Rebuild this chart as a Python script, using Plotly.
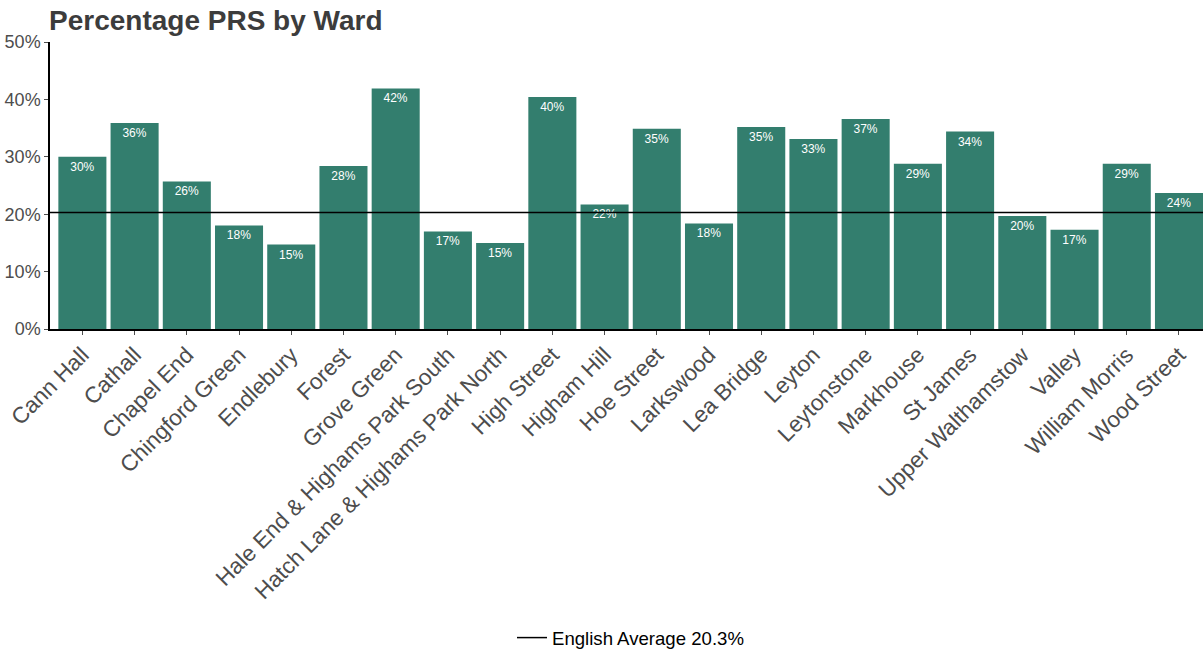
import plotly.graph_objects as go

wards = ["Cann Hall", "Cathall", "Chapel End", "Chingford Green", "Endlebury", "Forest",
         "Grove Green", "Hale End & Highams Park South", "Hatch Lane & Highams Park North",
         "High Street", "Higham Hill", "Hoe Street", "Larkswood", "Lea Bridge", "Leyton",
         "Leytonstone", "Markhouse", "St James", "Upper Walthamstow", "Valley",
         "William Morris", "Wood Street"]
prs_pct = [30.0, 35.9, 25.7, 18.05, 14.7, 28.4, 41.9, 17.0, 15.0, 40.4, 21.7, 34.9,
           18.4, 35.2, 33.1, 36.6, 28.8, 34.4, 19.7, 17.3, 28.8, 23.7]
english_avg = 20.3
y_ticks = [0, 10, 20, 30, 40, 50]
y_tick_labels = [f"{t}%" for t in y_ticks]

BAR = "#337E6E"
GREY = "#4D4D4D"
FONT = "Liberation Sans, Arial, sans-serif"

fig = go.Figure()
fig.add_trace(go.Bar(
    x=wards, y=prs_pct, marker_color=BAR, marker_line_width=0,
    text=[f"{v:.0f}%" for v in prs_pct], textposition="inside",
    insidetextanchor="end", textangle=0,
    textfont=dict(color="white", size=12, family=FONT),
    showlegend=False, hoverinfo="x+y",
))
fig.add_hline(y=english_avg, line=dict(color="black", width=1.5), layer="above")
fig.add_trace(go.Scatter(
    x=[None], y=[None], mode="lines", line=dict(color="black", width=1.5),
    name=f"English Average {english_avg}%", showlegend=True,
))

fig.update_layout(
    width=1203, height=651,
    plot_bgcolor="white", paper_bgcolor="white",
    margin=dict(l=50, r=0, t=42, b=322, autoexpand=False),
    bargap=0.08,
    font=dict(family=FONT, color=GREY),
    title=dict(text="<b>Percentage PRS by Ward</b>", x=49/1203, xanchor="left",
               y=1 - 20/651, yanchor="middle", automargin=False,
               font=dict(size=28, color="#3C3C3C", family=FONT)),
    legend=dict(orientation="h", x=0.5 + 4/1153, xanchor="center",
                y=(329 - 638) / 287, yanchor="middle",
                font=dict(size=18.6, color="black", family=FONT)),
    xaxis=dict(range=[-0.62, 21.46], tickangle=-45, showline=True, linecolor="black",
               linewidth=1.5, ticks="outside", ticklen=4, tickcolor=GREY,
               tickfont=dict(size=22.5, color=GREY), showgrid=False, automargin=False,
               ticklabelshift=0, ticklabelstandoff=-2),
    yaxis=dict(range=[0, 50], tickvals=y_ticks, ticktext=y_tick_labels, showline=True,
               linecolor="black", linewidth=1.5, ticks="outside", ticklen=4,
               tickcolor=GREY, tickfont=dict(size=18, color=GREY), showgrid=False,
               zeroline=False, automargin=False),
)

fig.write_html("out.html", config={"displayModeBar": False},
               post_script="document.body.style.margin='0';document.body.style.overflow='hidden';")
